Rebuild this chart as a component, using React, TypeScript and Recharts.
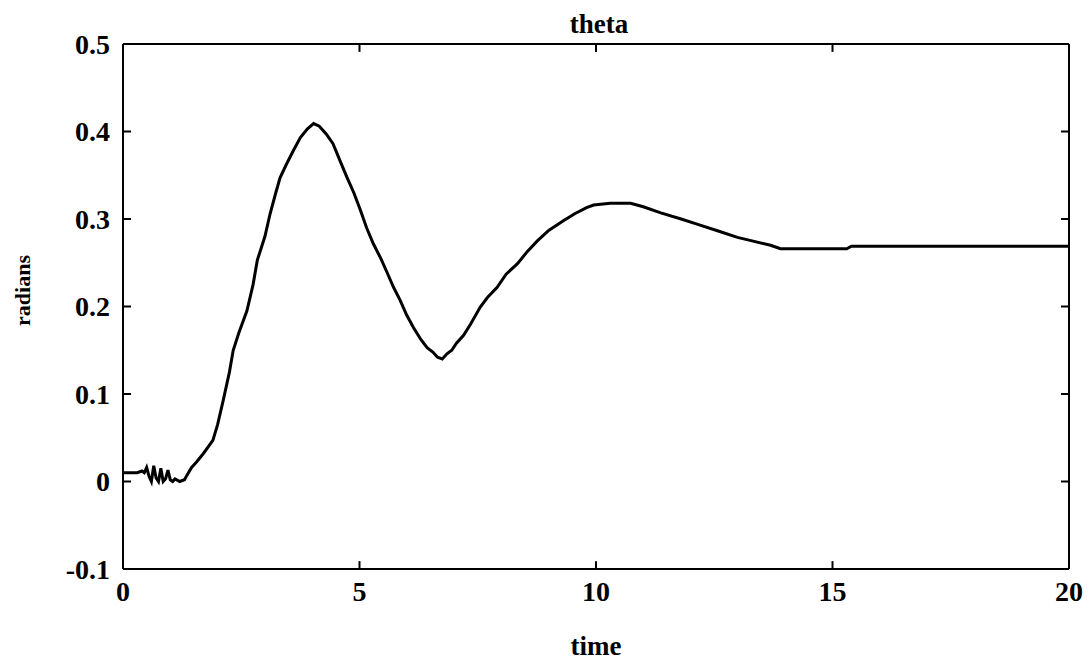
import { LineChart, Line, XAxis, YAxis, ReferenceLine } from 'recharts';

const times = [
  0, 0.3, 0.4, 0.45, 0.5, 0.55, 0.6, 0.65, 0.7, 0.75, 0.8, 0.85, 0.9, 0.95, 1.0, 1.05, 1.1, 1.2, 1.3, 1.35,
  1.45, 1.55, 1.7, 1.9, 2.0, 2.12, 2.25, 2.33, 2.45, 2.62, 2.75, 2.84, 3.0, 3.11, 3.22, 3.32, 3.45, 3.6, 3.75,
  3.9, 4.03, 4.15, 4.3, 4.44, 4.6, 4.74, 4.88, 5.02, 5.15, 5.29, 5.45, 5.59, 5.72, 5.86, 6.0, 6.14, 6.3, 6.43,
  6.55, 6.65, 6.75, 6.85, 6.95, 7.05, 7.2, 7.35, 7.55, 7.7, 7.91, 8.1, 8.34, 8.55, 8.76, 9.0, 9.31, 9.55, 9.8,
  9.95, 10.3, 10.73, 11.0, 11.37, 11.8, 12.2, 12.6, 12.99, 13.3, 13.69, 13.9, 14.5, 15.3, 15.4, 20,
];

const theta = [
  0.01, 0.01, 0.012, 0.01, 0.016, 0.006, 0.0, 0.018, 0.004, 0.0, 0.015, 0.0, 0.003, 0.013, 0.002, 0.0, 0.003,
  0.0, 0.002, 0.007, 0.016, 0.022, 0.032, 0.047, 0.065, 0.093, 0.125, 0.15, 0.17, 0.195, 0.225, 0.253, 0.28,
  0.306, 0.328, 0.347, 0.362, 0.378, 0.393, 0.403, 0.409, 0.406, 0.397, 0.386, 0.365, 0.347, 0.33, 0.31, 0.29,
  0.272, 0.255, 0.238, 0.222, 0.207, 0.19, 0.176, 0.162, 0.153, 0.148, 0.142, 0.14, 0.146, 0.15, 0.158, 0.167,
  0.18, 0.199, 0.21, 0.222, 0.237, 0.249, 0.263, 0.275, 0.287, 0.298, 0.306, 0.313, 0.316, 0.318, 0.318, 0.314,
  0.307, 0.3, 0.293, 0.286, 0.279, 0.275, 0.27, 0.266, 0.266, 0.266, 0.269, 0.269,
];

const xTicks = [0, 5, 10, 15, 20];
const yTicks = [-0.1, 0, 0.1, 0.2, 0.3, 0.4, 0.5];

const data = times.map((t, i) => ({ t, theta: theta[i] }));

const font = { fontFamily: '"Liberation Serif", serif', fontWeight: 'bold', fill: '#000' };
const axisLine = { stroke: '#000', strokeWidth: 2 };
const tickLine = { stroke: '#000', strokeWidth: 2 };

// inward tick length (~8px) expressed in axis units
const xMin = 0, xMax = 20, yMin = -0.1, yMax = 0.5;
const tickLenX = 0.17;
const tickLenY = 0.009;

const noLabel = () => <g />;

export default function App() {
  return (
    <LineChart width={1076} height={656} data={data} margin={{ top: 0, right: 15, bottom: 0, left: 0 }}>
      <XAxis
        xAxisId="b"
        dataKey="t"
        type="number"
        domain={[xMin, xMax]}
        ticks={xTicks}
        interval={0}
        height={95}
        tickLine={false}
        tickSize={0}
        tickMargin={12}
        axisLine={axisLine}
        fontSize={28}
        tick={{ ...font, fontSize: 28 }}
        label={{ value: 'time', position: 'insideBottom', offset: 9, style: { ...font, fontSize: 27 } }}
      />
      <XAxis
        xAxisId="t"
        orientation="top"
        dataKey="t"
        type="number"
        domain={[xMin, xMax]}
        ticks={xTicks}
        height={36}
        tick={false}
        tickLine={false}
        axisLine={axisLine}
        label={{ value: 'theta', position: 'insideBottom', offset: 11, dx: 3, style: { ...font, fontSize: 27 } }}
      />
      <YAxis
        yAxisId="l"
        type="number"
        domain={[yMin, yMax]}
        ticks={yTicks}
        interval={0}
        width={115}
        tickLine={false}
        tickSize={0}
        tickMargin={13}
        axisLine={axisLine}
        fontSize={28}
        tick={{ ...font, fontSize: 28 }}
        tickFormatter={(v: number) => (v === 0 ? '0' : v.toFixed(1))}
        label={{ value: 'radians', angle: -90, position: 'insideLeft', offset: 14, dy: -16, style: { ...font, fontSize: 22, textAnchor: 'middle' } }}
      />
      <YAxis
        yAxisId="rm"
        orientation="right"
        type="number"
        domain={[yMin, yMax]}
        ticks={yTicks}
        interval={0}
        mirror
        tick={noLabel}
        tickSize={8}
        tickLine={tickLine}
        axisLine={axisLine}
      />
      {xTicks.map((v) => (
        <ReferenceLine
          key={`xb${v}`}
          xAxisId="b"
          yAxisId="l"
          ifOverflow="visible"
          segment={[{ x: v, y: yMin }, { x: v, y: yMin + tickLenY }]}
          stroke="#000"
          strokeWidth={2}
        />
      ))}
      {xTicks.map((v) => (
        <ReferenceLine
          key={`xt${v}`}
          xAxisId="b"
          yAxisId="l"
          ifOverflow="visible"
          segment={[{ x: v, y: yMax }, { x: v, y: yMax - tickLenY }]}
          stroke="#000"
          strokeWidth={2}
        />
      ))}
      {yTicks.map((v) => (
        <ReferenceLine
          key={`yl${v}`}
          xAxisId="b"
          yAxisId="l"
          ifOverflow="visible"
          segment={[{ x: xMin, y: v }, { x: xMin + tickLenX, y: v }]}
          stroke="#000"
          strokeWidth={2}
        />
      ))}
      <Line
        xAxisId="b"
        yAxisId="l"
        dataKey="theta"
        type="linear"
        stroke="#000"
        strokeWidth={3}
        dot={false}
        isAnimationActive={false}
      />
      {/* hidden copy so the top and right frame axes get their scales */}
      <Line xAxisId="t" yAxisId="rm" dataKey="theta" stroke="none" dot={false} activeDot={false} isAnimationActive={false} />
    </LineChart>
  );
}
